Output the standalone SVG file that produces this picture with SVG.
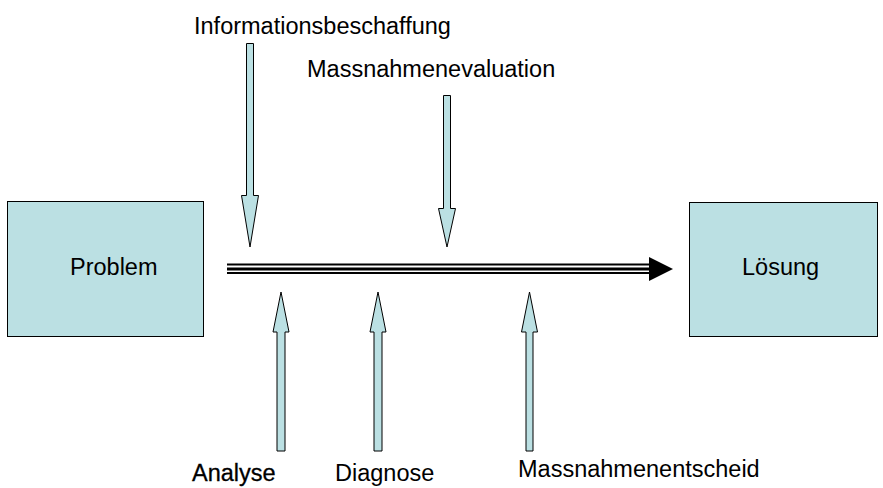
<svg xmlns="http://www.w3.org/2000/svg" width="883" height="488" viewBox="0 0 883 488">
<style>
.box{fill:#BBE0E3;stroke:#000;stroke-width:1}
.arr{fill:#BBE0E3;stroke:#000;stroke-width:1;stroke-linejoin:miter}
text{font-family:"Liberation Sans",Arial,sans-serif;font-size:23.5px;fill:#000}
</style>
<rect width="883" height="488" fill="#fff"/>
<g id="problem">
<rect class="box" x="7.5" y="201.5" width="196" height="135"/>
<text x="70" y="275">Problem</text>
</g>
<g id="loesung">
<rect class="box" x="689.5" y="202.5" width="188" height="134"/>
<text x="742" y="275">Lösung</text>
</g>
<g id="connectors">
<line x1="227" y1="264.5" x2="652" y2="264.5" stroke="#000" stroke-width="2"/>
<line x1="227" y1="269" x2="652" y2="269" stroke="#000" stroke-width="3"/>
<line x1="227" y1="273" x2="652" y2="273" stroke="#000" stroke-width="2"/>
<polygon points="649,257 673,269 649,281" fill="#000"/>
</g>
<g id="informationsbeschaffung">
<polygon class="arr" points="246.5,43.5 253.5,43.5 253.5,195.5 258.5,195.5 250,247 241.5,195.5 246.5,195.5"/>
<text x="194" y="34">Informationsbeschaffung</text>
</g>
<g id="massnahmenevaluation">
<polygon class="arr" points="443.5,95.5 450.5,95.5 450.5,208.5 455.5,208.5 447,247 438.5,208.5 443.5,208.5"/>
<text x="307" y="77">Massnahmenevaluation</text>
</g>
<g id="analyse">
<polygon class="arr" points="281,292 289,332 285,332 285,451 277,451 277,332 273,332"/>
<text x="192" y="481" stroke="#000" stroke-width="0.3">Analyse</text>
</g>
<g id="diagnose">
<polygon class="arr" points="378,292 386,332 382,332 382,451 374,451 374,332 370,332"/>
<text x="335" y="481">Diagnose</text>
</g>
<g id="massnahmenentscheid">
<polygon class="arr" points="529.5,292 537.5,332 533,332 533,451 526,451 526,332 521.5,332"/>
<text x="518" y="477">Massnahmenentscheid</text>
</g>
</svg>
